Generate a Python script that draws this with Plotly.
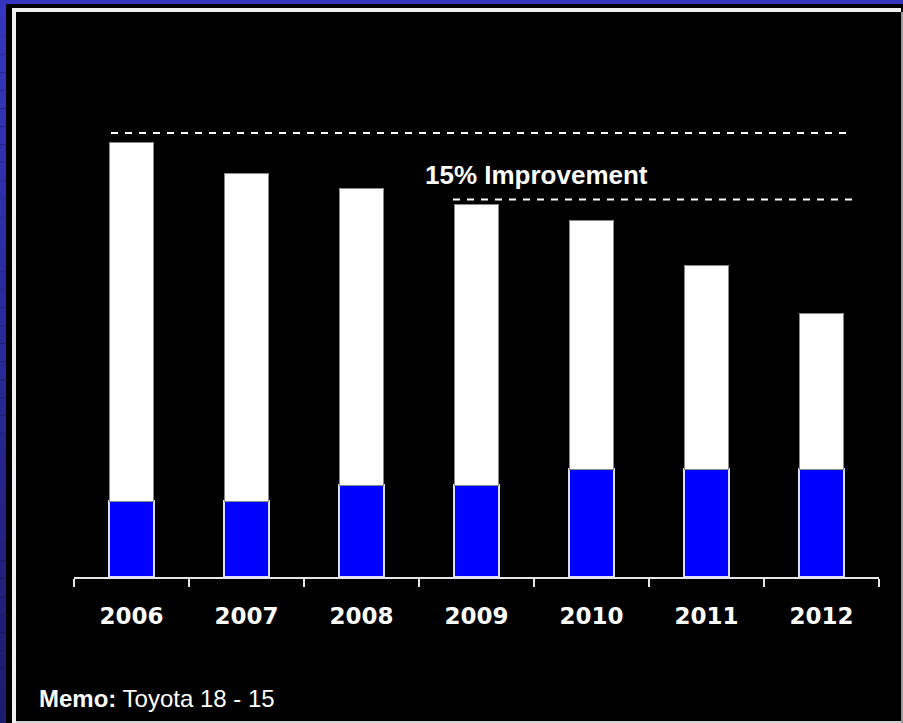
import plotly.graph_objects as go

# --- data -------------------------------------------------------------
years = ["2006", "2007", "2008", "2009", "2010", "2011", "2012"]
total_values = [43.5, 40.4, 38.9, 37.3, 35.7, 31.2, 26.4]
blue_values = [7.6, 7.6, 9.2, 9.2, 10.8, 10.8, 10.8]
reference_level = 44.4
improvement = 0.15
memo_label = "<b>Memo:</b> Toyota 18 - 15"

white_values = [t - b for t, b in zip(total_values, blue_values)]
improved_level = reference_level * (1 - improvement)

# --- canvas geometry --------------------------------------------------
FIG_W, FIG_H = 903, 723
M_L, M_R, M_T, M_B = 74, 24, 30, 146
PW = FIG_W - M_L - M_R
PH = FIG_H - M_T - M_B


def fx(px):
    return (px - M_L) / PW


def fy(py):
    return (FIG_H - M_B - py) / PH


fig = go.Figure()
fig.add_trace(go.Bar(
    x=years, y=blue_values, width=0.39,
    marker=dict(color="#0000ff", line=dict(color="#dcdcff", width=1.5)),
    hoverinfo="skip",
))
fig.add_trace(go.Bar(
    x=years, y=white_values, width=0.39,
    marker=dict(color="#ffffff", line=dict(color="#8a8a8a", width=1)),
    hoverinfo="skip",
))

shapes = []
# slide frame: blue gradient band on the left, blue band on top
n_seg = 40
c_top = (54, 54, 192)
c_bot = (28, 28, 112)
for i in range(n_seg):
    t = i / (n_seg - 1)
    c = tuple(round(a + (b - a) * t) for a, b in zip(c_top, c_bot))
    y0 = FIG_H * i / n_seg
    y1 = FIG_H * (i + 1) / n_seg
    shapes.append(dict(type="rect", xref="paper", yref="paper",
                       x0=fx(0), x1=fx(6), y0=fy(y1), y1=fy(y0),
                       fillcolor="rgb(%d,%d,%d)" % c, line=dict(width=0),
                       layer="below"))
shapes.append(dict(type="rect", xref="paper", yref="paper",
                   x0=fx(0), x1=fx(FIG_W), y0=fy(4), y1=fy(0),
                   fillcolor="#3434bc", line=dict(width=0), layer="below"))
# inner panel border: light top/left, grey right/bottom
shapes.append(dict(type="rect", xref="paper", yref="paper",
                   x0=fx(12), x1=fx(16), y0=fy(FIG_H), y1=fy(8),
                   fillcolor="#f0f0f0", line=dict(width=0), layer="below"))
shapes.append(dict(type="rect", xref="paper", yref="paper",
                   x0=fx(12), x1=fx(901), y0=fy(12), y1=fy(8),
                   fillcolor="#f0f0f0", line=dict(width=0), layer="below"))
shapes.append(dict(type="rect", xref="paper", yref="paper",
                   x0=fx(901), x1=fx(FIG_W), y0=fy(FIG_H), y1=fy(12),
                   fillcolor="#9a9a9a", line=dict(width=0), layer="below"))
shapes.append(dict(type="rect", xref="paper", yref="paper",
                   x0=fx(16), x1=fx(901), y0=fy(FIG_H), y1=fy(721),
                   fillcolor="#d0d0d0", line=dict(width=0), layer="below"))

# dashed reference lines
shapes.append(dict(type="line", xref="paper", yref="y",
                   x0=fx(111), x1=fx(848), y0=reference_level, y1=reference_level,
                   line=dict(color="#ffffff", width=2, dash="7px,7px")))
shapes.append(dict(type="line", xref="paper", yref="y",
                   x0=fx(453), x1=fx(852), y0=improved_level, y1=improved_level,
                   line=dict(color="#ffffff", width=2, dash="7px,7px")))

annotations = [
    dict(text="<b>%d%% Improvement</b>" % round(improvement * 100),
         xref="paper", yref="paper", x=fx(423), y=fy(175),
         xanchor="left", yanchor="middle", showarrow=False,
         font=dict(family="Liberation Sans, Arial, sans-serif", size=26,
                   color="#ffffff")),
    dict(text=memo_label, xref="paper", yref="paper", x=fx(37), y=fy(698),
         xanchor="left", yanchor="middle", showarrow=False,
         font=dict(family="Liberation Sans, Arial, sans-serif", size=24,
                   color="#ffffff")),
]

fig.update_layout(
    width=FIG_W, height=FIG_H,
    margin=dict(l=M_L, r=M_R, t=M_T, b=M_B, pad=0),
    paper_bgcolor="#000000", plot_bgcolor="#000000",
    barmode="stack", showlegend=False,
    shapes=shapes, annotations=annotations,
    xaxis=dict(
        type="category", tickson="boundaries",
        showline=True, linecolor="#e6e6e6", linewidth=2,
        ticks="outside", ticklen=8, tickwidth=1.5, tickcolor="#e6e6e6",
        showgrid=False, zeroline=False, fixedrange=True,
        tickfont=dict(family="DejaVu Sans, sans-serif", size=23,
                      color="#ffffff", weight="bold"),
        ticklabelstandoff=17,
    ),
    yaxis=dict(range=[0, PH / 10], visible=False, showgrid=False,
               zeroline=False, fixedrange=True),
)

fig.write_html("out.html")
